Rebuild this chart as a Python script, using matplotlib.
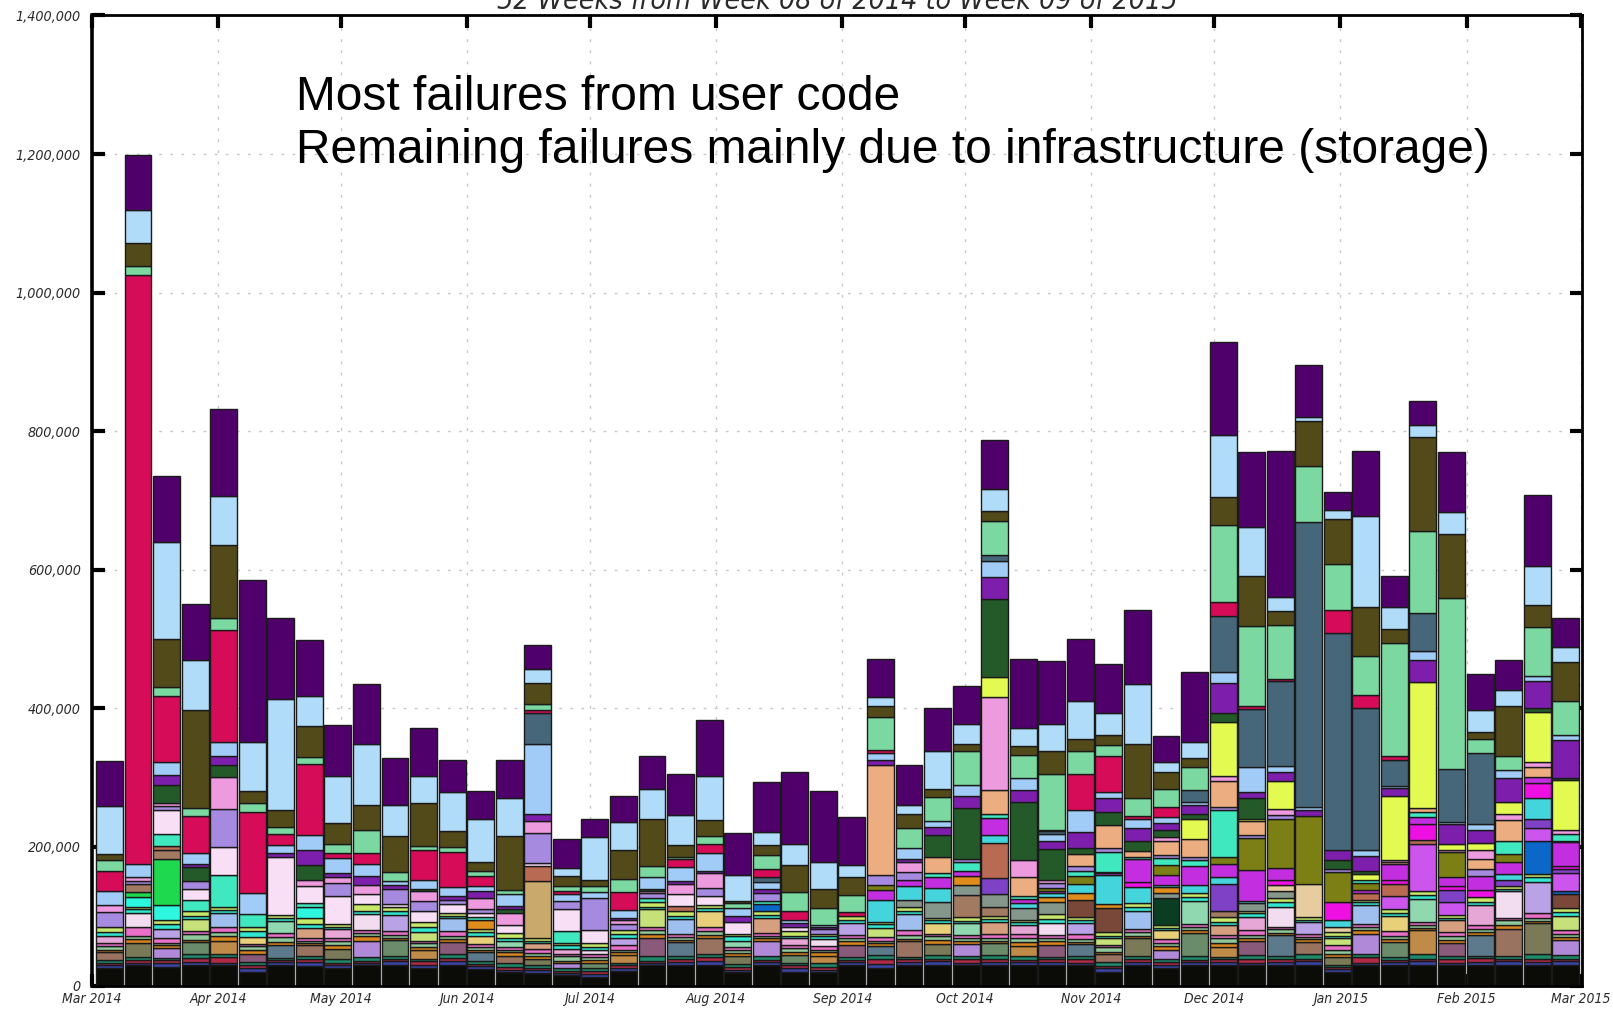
import matplotlib
matplotlib.use("Agg")
import matplotlib.pyplot as plt
import matplotlib.dates as mdates
import matplotlib.ticker as mticker
import numpy as np
import pandas as pd

# ---------------------------------------------------------------------------
# Weekly failed jobs (thousands), one entry per week
# ---------------------------------------------------------------------------
week_start = pd.date_range("2014-03-02", periods=52, freq="7D")

purple = [65, 78, 96, 81, 125, 233, 118, 81, 73, 87, 67, 69, 45, 40, 55, 35, 42, 26,
          37, 48, 59, 80, 61, 73, 103, 102, 69, 55, 58, 62, 55, 70, 101, 92, 89, 70,
          107, 37, 100, 135, 108, 211, 75, 26, 95, 45, 34, 86, 52, 43, 103, 43]
light_blue = [69, 48, 140, 73, 71, 71, 160, 43, 69, 87, 45, 38, 57, 63, 54, 21, 12, 63,
              40, 43, 43, 64, 37, 18, 31, 39, 18, 14, 13, 54, 29, 32, 26, 39, 55, 32,
              87, 15, 23, 89, 71, 21, 6, 13, 130, 31, 18, 32, 32, 23, 56, 21]
olive = [9, 33, 69, 141, 106, 18, 24, 45, 30, 37, 52, 63, 23, 13, 78, 30, 14, 8,
         42, 67, 17, 23, 3, 15, 39, 28, 26, 15, 20, 12, 10, 15, 12, 32, 17, 15,
         78, 24, 13, 40, 72, 20, 65, 66, 72, 21, 135, 92, 10, 72, 31, 57]
mint = [15, 13, 13, 11, 17, 12, 10, 10, 12, 32, 13, 6, 7, 7, 6, 9, 7, 9,
        19, 17, 3, 11, 7, 20, 28, 24, 24, 48, 30, 34, 49, 49, 34, 81, 34, 15,
        26, 26, 34, 112, 116, 77, 81, 66, 56, 163, 119, 247, 20, 21, 71, 48]
crimson = [30, 851, 95, 54, 161, 117, 16, 103, 8, 17, 0, 43, 51, 14, 0, 4, 5, 0,
           26, 0, 12, 13, 0, 12, 13, 0, 5, 5, 0, 0, 0, 0, 0, 2, 52, 52,
           4, 15, 0, 20, 4, 4, 0, 33, 18, 5, 0, 0, 0, 0, 0, 0]
slate = [0, 0, 0, 0, 0, 0, 0, 0, 0, 0, 0, 0, 0, 0, 0, 45, 0, 0,
         0, 0, 0, 0, 0, 6, 0, 0, 0, 0, 0, 0, 0, 9, 0, 4, 0, 0,
         0, 0, 17, 80, 84, 122, 411, 313, 205, 38, 54, 77, 103, 0, 0, 0]
sky_blue = [20, 18, 19, 16, 20, 31, 12, 21, 22, 17, 6, 12, 13, 7, 17, 101, 10, 9,
            12, 16, 20, 26, 12, 11, 4, 4, 0, 10, 15, 9, 15, 23, 17, 10, 31, 10,
            13, 8, 4, 17, 35, 9, 4, 0, 9, 3, 13, 3, 9, 12, 7, 8]
violet = [0, 0, 14, 4, 14, 0, 6, 22, 6, 13, 6, 0, 6, 10, 5, 9, 0, 0,
          3, 0, 4, 4, 8, 6, 5, 3, 0, 6, 4, 12, 18, 31, 17, 12, 23, 20,
          18, 10, 14, 43, 10, 13, 10, 15, 21, 12, 32, 28, 18, 34, 40, 54]
dark_green = [0, 0, 26, 20, 17, 0, 0, 22, 0, 0, 0, 3, 0, 0, 5, 0, 0, 0,
              0, 4, 0, 0, 0, 0, 0, 0, 0, 0, 0, 32, 73, 113, 84, 45, 9, 18,
              15, 10, 6, 12, 29, 0, 0, 13, 5, 0, 0, 0, 0, 0, 5, 3]
yellow = [0] * 27 + [0, 0, 0, 0, 28, 0, 0, 0, 0,
                     0, 0, 29, 79, 4, 40, 0, 0, 8, 92, 182, 9, 10, 17, 73, 73]
orchid = [10, 6, 5, 0, 46, 0, 0, 9, 8, 13, 0, 15, 0, 17, 17, 18, 0, 0,
          5, 3, 15, 21, 0, 0, 0, 0, 0, 0, 15, 0, 0, 135, 24, 4, 0, 0,
          0, 6, 0, 7, 0, 9, 0, 0, 0, 3, 0, 3, 13, 9, 7, 6]
peach = [0] * 27 + [159, 0, 23, 0, 34, 28, 0, 17, 34,
                    8, 20, 26, 38, 20, 0, 0, 0, 0, 3, 6, 0, 15, 31, 14, 0]
lavender = [21, 4, 6, 12, 55, 0, 0, 0, 19, 0, 21, 15, 6, 5, 0, 43, 11, 46,
            9, 7, 0, 12, 0, 11, 0, 6, 0, 15, 12, 0, 4, 0, 0, 7, 7, 5,
            0, 5, 5, 4, 4, 5, 0, 4, 0, 0, 0, 0, 10, 0, 0, 0]
pale_pink = [0, 0, 34, 15, 40, 0, 83, 24, 40, 15, 5, 15, 13, 6, 12, 5, 32, 18,
             0, 0, 17, 13, 18, 0, 6, 0, 0] + [0] * 25
aquamarine = [0, 0, 18, 17, 47, 18, 0, 6, 0, 0, 0, 0, 0, 4, 0, 0, 17, 0,
              0, 5, 0, 0, 0, 5, 0, 0, 0, 0, 0, 6, 13, 6, 4, 0, 8, 29,
              3, 10, 9, 67, 0, 0, 0, 0, 5, 0, 7, 0, 0, 18, 0, 9]
olive_green = [0] * 27 + [7, 0, 0, 0, 0, 0, 4, 12, 2,
                          0, 14, 0, 11, 46, 72, 98, 44, 10, 0, 0, 37, 0, 12, 0, 2]
magenta = [0] * 27 + [15, 8, 15, 8, 25, 6, 4, 0, 3,
                      33, 15, 27, 18, 45, 16, 0, 0, 4, 23, 10, 12, 20, 17, 9, 34]
fuchsia = [0] * 36 + [8, 0, 0, 0, 0, 8, 0, 26, 0, 5, 23, 6, 10, 0, 22, 5]
turquoise = [0] * 27 + [31, 21, 20, 0, 11, 7, 5, 13, 41,
                        23, 3, 12, 10, 3, 0, 0, 9, 0, 0, 0, 0, 0, 8, 29, 0]
terracotta = [0, 0, 6, 0, 0, 0, 0, 0, 0, 0, 0, 0, 0, 0, 0, 21, 0, 0,
              0, 0, 8, 0, 0, 0, 0, 0, 0, 0, 0, 0, 0, 51, 0, 0, 0, 0,
              0, 0, 0, 0, 0, 0, 0, 0, 10, 18, 5, 0, 0, 0, 0, 0]
tan = [0] * 15 + [83] + [0] * 36
blue_violet = [0] * 31 + [23] + [0] * 7 + [39] + [0] * 7 + [18, 0, 10, 13, 6]
light_magenta = [0] * 45 + [18, 69, 18, 0, 0, 20, 25]
blue = [0] * 23 + [10] + [0] * 26 + [47, 5]
cream = [0] * 41 + [9, 47, 8] + [0] * 8
orange = [0] * 13 + [13] + [0] * 16 + [13, 0, 0, 7, 10, 6, 0, 8] + [0] * 14
grey = [0] * 28 + [10, 23, 15, 19, 17, 18, 0, 0, 0, 8, 0, 0, 12, 10] + [0] * 10
light_brown = [0, 12, 12] + [0] * 27 + [31, 12] + [0] * 7 + [9] + [0] * 12
dark_brown = [0] * 34 + [24, 35] + [0] * 15 + [20]
bright_green = [0, 7, 67] + [0] * 49
cyan = [0, 14, 22, 0, 0, 0, 0, 15] + [0] * 44
forest = [0] * 37 + [39] + [0] * 14

# many small contributors near the bottom of each bar
mn_teal = [5, 4, 3, 6, 4, 5, 3, 4, 6, 5, 4, 3, 5, 4, 6, 3, 4, 5, 4, 6, 3, 5, 4, 6, 3, 5,
           4, 6, 3, 5, 4, 6, 5, 3, 4, 6, 5, 4, 6, 3, 5, 4, 6, 3, 5, 4, 6, 5, 3, 4, 6, 5]
mn_lime = [8, 3, 5, 7, 4, 6, 5, 9, 4, 10, 6, 8, 4, 5, 7, 3, 4, 6, 5, 8, 6, 4, 3, 5, 7, 4,
           6, 3, 5, 4, 6, 5, 3, 7, 4, 5, 6, 4, 5, 7, 3, 6, 4, 5, 3, 6, 5, 4, 7, 3, 5, 6]
mn_pink = [4, 12, 6, 5, 7, 3, 6, 4, 5, 4, 6, 3, 7, 5, 4, 6, 3, 5, 7, 4, 5, 6, 3, 4, 5, 6,
           4, 5, 7, 3, 4, 6, 5, 4, 7, 3, 5, 6, 4, 5, 7, 3, 4, 6, 5, 7, 4, 6, 5, 3, 8, 5]
mn_orange = [3, 5, 4, 3, 6, 7, 5, 3, 6, 6, 3, 5, 4, 3, 5, 4, 3, 4, 5, 6, 3, 4, 5, 3, 4, 5,
             6, 4, 3, 6, 5, 4, 6, 5, 3, 4, 3, 5, 4, 6, 5, 3, 4, 5, 6, 4, 3, 5, 4, 6, 3, 4]
mn_cyan = [5, 6, 8, 4, 5, 9, 4, 6, 3, 4, 5, 6, 3, 5, 4, 3, 5, 4, 6, 3, 5, 4, 6, 5, 3, 4,
           5, 6, 5, 4, 3, 5, 4, 6, 5, 4, 5, 3, 6, 4, 5, 6, 3, 4, 5, 4, 6, 3, 5, 4, 6, 5]
mn_rose = [3, 4, 5, 6, 8, 4, 3, 5, 4, 3, 4, 5, 4, 3, 5, 4, 3, 4, 4, 3, 5, 6, 4, 3, 5, 4,
           3, 7, 4, 3, 5, 4, 3, 4, 6, 3, 4, 5, 3, 4, 6, 5, 4, 3, 8, 3, 4, 5, 6, 4, 5, 3]
mn_sage = [6, 5, 4, 8, 6, 5, 7, 4, 5, 5, 4, 6, 5, 4, 3, 5, 6, 4, 3, 5, 4, 6, 5, 4, 6, 3,
           5, 4, 6, 5, 4, 3, 6, 5, 4, 6, 5, 4, 5, 6, 4, 5, 3, 6, 4, 5, 4, 6, 5, 6, 4, 5]
mn_navy = [4, 3, 5, 4, 3, 5, 4, 6, 3, 3, 5, 4, 6, 4, 3, 4, 3, 5, 4, 3, 4, 5, 3, 4, 5, 3,
           4, 5, 4, 6, 3, 4, 5, 4, 3, 5, 4, 3, 4, 5, 3, 4, 5, 4, 3, 4, 5, 3, 4, 5, 4, 6]
other_low = [25, 30, 27, 30, 30, 20, 30, 28, 26, 30, 30, 26, 30, 24, 19, 18, 15, 12,
             21, 30, 30, 30, 20, 30, 20, 20, 30, 26, 30, 30, 30, 30, 29, 30, 30, 20,
             30, 26, 30, 29, 30, 30, 30, 20, 30, 30, 30, 30, 30, 30, 30, 30]
other_mid = [11, 21, 14, 17, 20, 11, 18, 15, 14, 24, 23, 13, 18, 13, 10, 9, 8, 7,
             11, 27, 21, 23, 11, 22, 11, 11, 17, 13, 23, 16, 18, 17, 15, 18, 17, 11,
             26, 14, 33, 15, 20, 30, 18, 11, 28, 22, 35, 18, 30, 39, 45, 22]
other_top = [11, 21, 13, 17, 20, 10, 17, 14, 13, 23, 23, 13, 18, 12, 10, 9, 8, 6,
             10, 26, 21, 23, 10, 21, 10, 10, 17, 13, 23, 16, 17, 17, 14, 17, 16, 10,
             26, 13, 33, 15, 19, 30, 18, 10, 27, 22, 34, 17, 29, 39, 45, 21]

# the two "other" groups get a different muted fill in each week
mid_palette = ["#9a7260", "#7a7a58", "#b08ad8", "#6a8c6a", "#c08a48", "#8a5a7a", "#5c7a8c"]
top_palette = ["#e6a6d6", "#c6e07a", "#8fd8b0", "#f2dcef", "#9fc0ee", "#d6a080",
               "#b9a2e6", "#e8cf7a"]
mid_colours = [mid_palette[i % len(mid_palette)] for i in range(52)]
top_colours = [top_palette[(i * 3) % len(top_palette)] for i in range(52)]

# stacking order, bottom to top, with fill colours
stack = [
    (other_low, "#0b0b08"), (mn_navy, "#3c44a8"), (mn_rose, "#b02a48"),
    (mn_teal, "#1f8a6a"), (other_mid, mid_colours), (mn_orange, "#d8841c"),
    (mn_sage, "#8fc89a"), (mn_pink, "#e870c8"), (other_top, top_colours),
    (mn_cyan, "#30e8d0"), (mn_lime, "#c8e86a"),
    (forest, "#0b3d22"), (cyan, "#2cf8e0"), (bright_green, "#1ed94e"),
    (dark_brown, "#7a4838"), (light_brown, "#a27a62"), (grey, "#85968b"),
    (orange, "#e08c1c"), (cream, "#e6cc9e"), (blue, "#0c68c8"),
    (light_magenta, "#cc55ee"), (blue_violet, "#7f42c6"), (tan, "#c9a96c"),
    (terracotta, "#b86a52"), (turquoise, "#44d4dc"), (fuchsia, "#ee10e2"),
    (magenta, "#c22ee0"), (olive_green, "#7c8014"), (aquamarine, "#40e8c0"),
    (pale_pink, "#f8dff6"), (lavender, "#a68ae0"), (peach, "#ecae80"),
    (orchid, "#ee9ade"), (yellow, "#e3fa50"), (dark_green, "#245a2a"),
    (violet, "#7d1fac"), (sky_blue, "#a0ccf7"), (slate, "#466679"),
    (crimson, "#d60c58"), (mint, "#7ad8a0"), (olive, "#524a18"),
    (light_blue, "#b0dcfa"), (purple, "#50006a"),
]

tick_font = dict(family="DejaVu Sans", style="italic", stretch="condensed")

fig = plt.figure(figsize=(16.13, 10.13), dpi=100)
ax = fig.add_axes([0.0570, 0.0271, 0.9238, 0.9576])

x = mdates.date2num(week_start.to_pydatetime())
bottom = np.zeros(len(x))
for values, colour in stack:
    h = np.asarray(values, dtype=float) * 1000.0
    keep = h > 0
    if isinstance(colour, list):
        fill = [c for c, k in zip(colour, keep) if k]
    else:
        fill = colour
    ax.bar(x[keep], h[keep], width=6.6, bottom=bottom[keep], align="edge",
           color=fill, edgecolor="#1a1a1a", linewidth=1.0, zorder=3)
    bottom += h

ax.set_ylim(0, 1_400_000)
ax.set_yticks(np.arange(0, 1_400_001, 200_000))
ax.yaxis.set_major_formatter(mticker.FuncFormatter(lambda v, p: f"{v:,.0f}"))

ax.set_xlim(mdates.date2num(pd.Timestamp("2014-03-01")),
            mdates.date2num(pd.Timestamp("2015-03-01")) + 0.3)
ax.xaxis.set_major_locator(mdates.MonthLocator())
ax.xaxis.set_major_formatter(mdates.DateFormatter("%b %Y"))

ax.grid(True, linestyle=(0, (2, 6)), color="#c8c8c8", linewidth=1.0, zorder=0)
ax.set_axisbelow(True)

for side in ("left", "right", "top", "bottom"):
    ax.spines[side].set_linewidth(2.0)
    ax.spines[side].set_color("black")
    ax.spines[side].set_zorder(5)
ax.spines["left"].set_linewidth(2.6)

ax.tick_params(axis="both", which="major", direction="in", length=9, width=3,
               top=True, right=True, colors="black", labelcolor="#2a2a2a")
ax.tick_params(axis="y", pad=8)
ax.tick_params(axis="x", pad=5)
for lab in ax.get_yticklabels():
    lab.set_fontfamily(tick_font["family"])
    lab.set_fontstyle(tick_font["style"])
    lab.set_fontstretch(tick_font["stretch"])
    lab.set_fontsize(10.3)
for lab in ax.get_xticklabels():
    lab.set_fontfamily(tick_font["family"])
    lab.set_fontstyle(tick_font["style"])
    lab.set_fontstretch(tick_font["stretch"])
    lab.set_fontsize(10)

fig.text(0.519, 0.991, "52 Weeks from Week 08 of 2014 to Week 09 of 2015",
         ha="center", va="baseline", fontsize=20.5, color="#2a2a2a", **tick_font)

fig.text(296 / 1613, 1 - 110 / 1013, "Most failures from user code",
         ha="left", va="baseline", fontsize=34.5, family="Liberation Sans",
         color="black", zorder=10)
fig.text(296 / 1613, 1 - 163 / 1013,
         "Remaining failures mainly due to infrastructure (storage)",
         ha="left", va="baseline", fontsize=34.5, family="Liberation Sans",
         color="black", zorder=10)

fig.savefig("out.png", dpi=100)
